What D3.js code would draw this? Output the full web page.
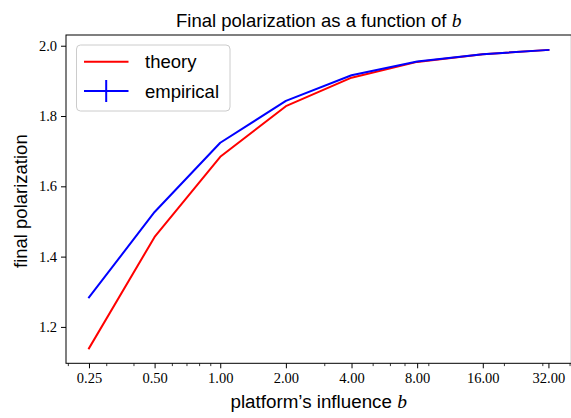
<!DOCTYPE html>
<html>
<head>
<meta charset="utf-8">
<script src="https://cdn.jsdelivr.net/npm/d3@7"></script>
<style>
  html, body { margin: 0; padding: 0; background: #fff; }
  svg { display: block; }
</style>
</head>
<body>
<svg id="chart" width="571" height="418"></svg>
<script>
// ---- data ----
const bValues = [0.25, 0.5, 1, 2, 4, 8, 16, 32];
const theory = [1.139, 1.456, 1.684, 1.828, 1.909, 1.954, 1.976, 1.988];
const empirical = [1.284, 1.527, 1.724, 1.843, 1.916, 1.955, 1.976, 1.988];
const xTickLabels = ["0.25", "0.50", "1.00", "2.00", "4.00", "8.00", "16.00", "32.00"];
const xMinorTicks = [0.2, 0.3, 0.4, 0.6, 0.7, 0.8, 0.9, 3, 5, 6, 7, 9, 20, 30, 40];
const yTicks = [1.2, 1.4, 1.6, 1.8, 2.0];
const seriesNames = ["theory", "empirical"];
const seriesColors = ["#ff0000", "#0000ff"];

// ---- layout ----
const svg = d3.select("#chart");
const pL = 66, pR = 571.4, pT = 35, pB = 363.3;

const x = d3.scaleLog().base(2)
  .domain([Math.pow(2, -2.35), Math.pow(2, 5.35)])
  .range([pL, pR]);
const y = d3.scaleLinear()
  .domain([1.0965, 2.0305])
  .range([pB, pT]);

const sans = "'Liberation Sans', Arial, sans-serif";
const serif = "'Liberation Serif', 'DejaVu Serif', serif";

// lines
const line = d3.line().x((d, i) => x(bValues[i])).y(d => y(d));
[theory, empirical].forEach((s, k) => {
  svg.append("path")
    .attr("d", line(s))
    .attr("fill", "none")
    .attr("stroke", seriesColors[k])
    .attr("stroke-width", 2)
    .attr("stroke-linejoin", "round")
    .attr("stroke-linecap", "square");
});

// x axis
const xAxis = d3.axisBottom(x)
  .tickValues(bValues)
  .tickFormat((d, i) => xTickLabels[i])
  .tickSize(5)
  .tickPadding(4);
const gx = svg.append("g").attr("transform", `translate(0,${pB})`).call(xAxis);
gx.select(".domain").remove();
gx.selectAll("text").attr("font-family", serif).attr("font-size", 14.5).attr("fill", "#000");
gx.selectAll("line").attr("stroke", "#000").attr("stroke-width", 1);

const xMinor = d3.axisBottom(x).tickValues(xMinorTicks).tickFormat("").tickSize(2.8);
const gxm = svg.append("g").attr("transform", `translate(0,${pB})`).call(xMinor);
gxm.select(".domain").remove();
gxm.selectAll("line").attr("stroke", "#000").attr("stroke-width", 0.8);

// y axis
const yAxis = d3.axisLeft(y)
  .tickValues(yTicks)
  .tickFormat(d3.format(".1f"))
  .tickSize(5)
  .tickPadding(4);
const gy = svg.append("g").attr("transform", `translate(${pL},0)`).call(yAxis);
gy.select(".domain").remove();
gy.selectAll("text").attr("font-family", serif).attr("font-size", 14.5).attr("fill", "#000");
gy.selectAll("line").attr("stroke", "#000").attr("stroke-width", 1);

// spines
svg.append("rect")
  .attr("x", pL).attr("y", pT)
  .attr("width", pR - pL).attr("height", pB - pT)
  .attr("fill", "none").attr("stroke", "#000").attr("stroke-width", 1);

// title
const title = svg.append("text")
  .attr("x", (pL + pR) / 2).attr("y", 27)
  .attr("text-anchor", "middle")
  .attr("font-family", sans).attr("font-size", 18.5).attr("fill", "#000");
title.append("tspan").text("Final polarization as a function of ");
title.append("tspan").attr("font-family", serif).attr("font-style", "italic").attr("font-size", 19.5).text("b");

// x label
const xl = svg.append("text")
  .attr("x", (pL + pR) / 2).attr("y", 408)
  .attr("text-anchor", "middle")
  .attr("font-family", sans).attr("font-size", 18.8).attr("fill", "#000");
xl.append("tspan").text("platform\u2019s influence ");
xl.append("tspan").attr("font-family", serif).attr("font-style", "italic").attr("font-size", 19.5).text("b");

// y label
svg.append("text")
  .attr("transform", `translate(27,${(pT + pB) / 2 + 2}) rotate(-90)`)
  .attr("text-anchor", "middle")
  .attr("font-family", sans).attr("font-size", 18.5).attr("fill", "#000")
  .text("final polarization");

// legend
const lg = svg.append("g");
lg.append("rect")
  .attr("x", 76.5).attr("y", 45).attr("width", 153.5).attr("height", 66)
  .attr("rx", 4).attr("fill", "#fff").attr("fill-opacity", 0.8)
  .attr("stroke", "#cccccc").attr("stroke-width", 1);
const legendY = [61.7, 91];
seriesNames.forEach((name, k) => {
  lg.append("line")
    .attr("x1", 84).attr("x2", 128.5)
    .attr("y1", legendY[k]).attr("y2", legendY[k])
    .attr("stroke", seriesColors[k]).attr("stroke-width", 2);
  if (name === "empirical") {
    lg.append("line")
      .attr("x1", 106.2).attr("x2", 106.2)
      .attr("y1", legendY[k] - 11).attr("y2", legendY[k] + 11)
      .attr("stroke", seriesColors[k]).attr("stroke-width", 2);
  }
  lg.append("text")
    .attr("x", 145).attr("y", legendY[k] + 6.6)
    .attr("font-family", sans).attr("font-size", 18.5).attr("fill", "#000")
    .text(name);
});
</script>
</body>
</html>
